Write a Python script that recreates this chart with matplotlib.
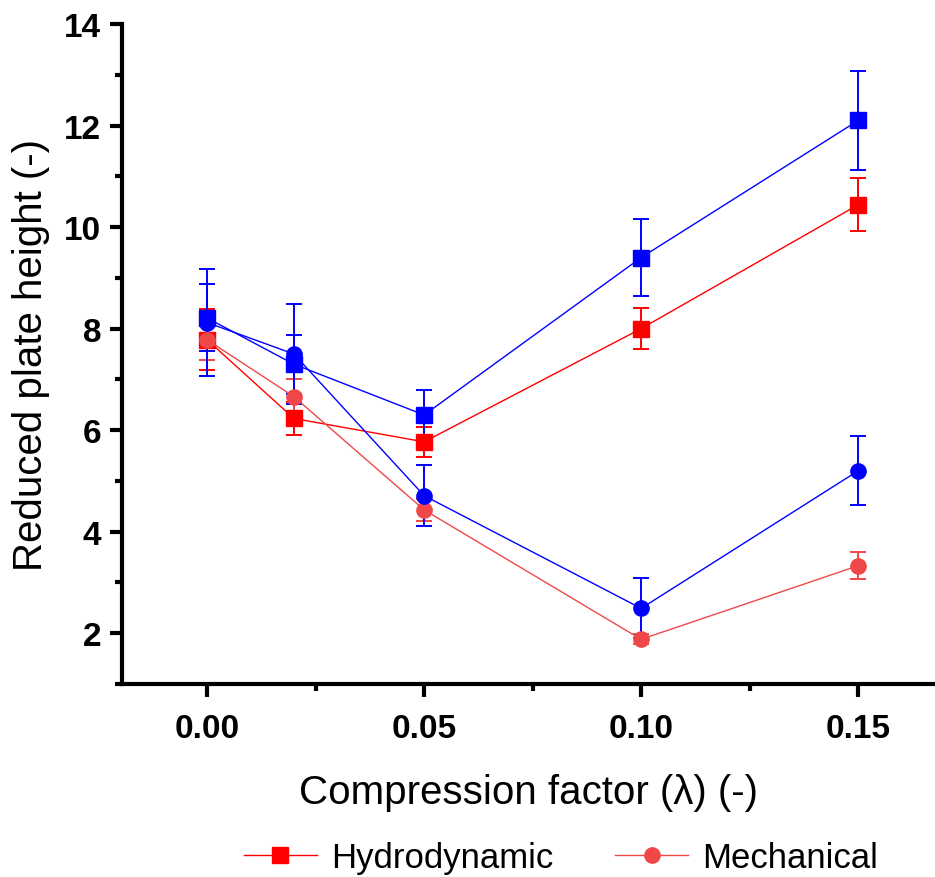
import matplotlib.pyplot as plt
from matplotlib.ticker import MultipleLocator

plt.rcParams['font.family'] = ['Liberation Sans', 'DejaVu Sans']

lam = [0.00, 0.02, 0.05, 0.10, 0.15]

# red squares (Hydrodynamic)
hyd_red = [7.78, 6.23, 5.77, 8.00, 10.44]
hyd_red_err = [0.60, 0.32, 0.29, 0.40, 0.52]
# blue squares
hyd_blue = [8.21, 7.30, 6.30, 9.40, 12.10]
hyd_blue_err = [0.66, 0.58, 0.50, 0.76, 0.97]
# light red circles (Mechanical)
mech_red = [7.78, 6.66, 4.43, 1.88, 3.33]
mech_red_err = [0.40, 0.34, 0.22, 0.10, 0.27]
# blue circles
mech_blue = [8.12, 7.50, 4.71, 2.49, 5.20]
mech_blue_err = [1.05, 0.98, 0.60, 0.59, 0.68]

red = '#ff0000'
lred = '#f04848'
blue = '#0000ff'

fig = plt.figure(figsize=(9.35, 8.78), dpi=100)
ax = fig.add_axes([0.1305, 0.2198, 0.8695, 0.7517])

kw = dict(lw=1, elinewidth=1.4, capsize=6, capthick=1.4, markersize=11)
ax.errorbar(lam, hyd_red, yerr=hyd_red_err, color=red, marker='s', label='Hydrodynamic', **kw)
ax.errorbar(lam, mech_red, yerr=mech_red_err, color=lred, marker='o', label='Mechanical', **kw)
ax.errorbar(lam, hyd_blue, yerr=hyd_blue_err, color=blue, marker='s', **kw)
ax.errorbar(lam, mech_blue, yerr=mech_blue_err, color=blue, marker='o', **kw)

ax.set_xlim(-0.0196, 0.1677)
ax.set_ylim(1, 14)
ax.xaxis.set_major_locator(MultipleLocator(0.05))
ax.xaxis.set_minor_locator(MultipleLocator(0.025))
ax.yaxis.set_minor_locator(MultipleLocator(1))
ax.set_yticks([2, 4, 6, 8, 10, 12, 14])
ax.xaxis.set_major_formatter(plt.FuncFormatter(lambda v, p: f'{v:.2f}'))

for s in ['top', 'right']:
    ax.spines[s].set_visible(False)
for s in ['left', 'bottom']:
    ax.spines[s].set_linewidth(3)

ax.tick_params(which='major', direction='out', length=9, width=3, labelsize=24, pad=6)
ax.tick_params(axis='x', which='major', pad=12)
ax.tick_params(which='minor', direction='out', length=5, width=3)
for t in ax.get_xticklabels() + ax.get_yticklabels():
    t.set_fontweight('bold')

ax.set_xlabel('Compression factor (λ) (-)', fontsize=29, labelpad=21)
ax.set_ylabel('Reduced plate height (-)', fontsize=29, labelpad=10)

handles, labels = ax.get_legend_handles_labels()
handles = [h[0] for h in handles]
fig.legend(handles, labels, loc='center', bbox_to_anchor=(0.6, 0.022), ncol=2,
           frameon=False, fontsize=25, handlelength=2.1, handletextpad=0.4,
           columnspacing=1.8)

fig.savefig('out.png', dpi=100)
